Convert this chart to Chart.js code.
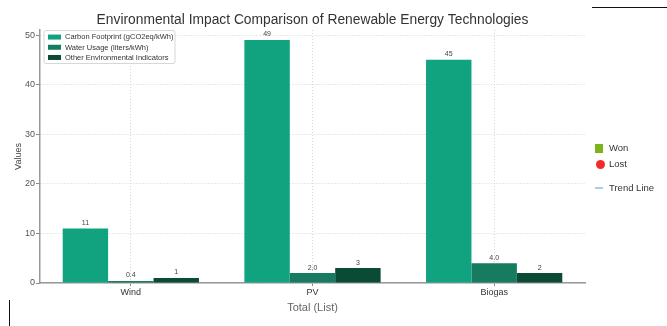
<!DOCTYPE html>
<html>
<head>
<meta charset="utf-8">
<script src="https://cdn.jsdelivr.net/npm/chart.js@4/dist/chart.umd.min.js"></script>
<style>
  html, body { margin: 0; padding: 0; background: #fff; }
  #wrap { position: relative; width: 667px; height: 326px; font-family: "Liberation Sans", Arial, sans-serif; }
  #chart { position: absolute; left: 0; top: 0; }
  .deco { position: absolute; background: #111; }
  .key { position: absolute; font-size: 9.5px; color: #333; line-height: 10px; }
  .sw { position: absolute; }
</style>
</head>
<body>
<div id="wrap">
  <canvas id="chart" width="667" height="326"></canvas>
  <div class="deco" style="left:592px; top:7px; width:75px; height:1.3px;"></div>
  <div class="deco" style="left:8.5px; top:300px; width:1.2px; height:26px;"></div>
  <div class="sw" style="left:595px; top:144px; width:8px; height:9px; background:#7cb51a;"></div>
  <div class="key" style="left:609px; top:143px;">Won</div>
  <div class="sw" style="left:595.5px; top:159.5px; width:9px; height:9px; border-radius:50%; background:#f42a2a;"></div>
  <div class="key" style="left:609px; top:159px;">Lost</div>
  <div class="sw" style="left:595px; top:187px; width:8px; height:1.5px; background:#a9cfe6;"></div>
  <div class="key" style="left:609px; top:183px;">Trend Line</div>
</div>
<script>
// Technologies compared on the x axis
const categories = ['Wind', 'PV', 'Biogas'];

// Series values per technology
const carbonFootprint = [11, 49, 45];   // gCO2eq/kWh
const waterUsage = [0.4, 2.0, 4.0];     // liters/kWh
const otherIndicators = [1, 3, 2];

const seriesNames = ['Carbon Footprint (gCO2eq/kWh)', 'Water Usage (liters/kWh)', 'Other Environmental Indicators'];
const seriesColors = ['#11a37f', '#177b5f', '#0b4a35'];
const labelDecimals = [0, 1, 0];

const yTicks = [0, 10, 20, 30, 40, 50];

const FONT = '"Liberation Sans", Arial, sans-serif';

// Legend box drawn inside the plot, below the bars
const innerLegend = {
  id: 'innerLegend',
  beforeDatasetsDraw(chart) {
    const ctx = chart.ctx;
    const ca = chart.chartArea;
    const x0 = ca.left + 4, y0 = ca.top + 0.5, w = 131, h = 33;
    ctx.save();
    ctx.setLineDash([]);
    ctx.fillStyle = 'rgba(255,255,255,0.85)';
    ctx.strokeStyle = '#d6d6d6';
    ctx.lineWidth = 1;
    ctx.beginPath();
    ctx.roundRect(x0, y0, w, h, 2);
    ctx.fill();
    ctx.stroke();
    ctx.font = '7.5px ' + FONT;
    ctx.textBaseline = 'middle';
    chart.data.datasets.forEach((ds, i) => {
      const cy = y0 + 6.5 + i * 10.2;
      ctx.fillStyle = ds.backgroundColor;
      ctx.fillRect(x0 + 4, cy - 2.5, 13, 5);
      ctx.fillStyle = '#333';
      ctx.fillText(ds.label, x0 + 21, cy + 0.3);
    });
    ctx.restore();
  }
};

// Value labels above each bar
const valueLabels = {
  id: 'valueLabels',
  afterDatasetsDraw(chart) {
    const ctx = chart.ctx;
    ctx.save();
    ctx.font = '7px ' + FONT;
    ctx.fillStyle = '#444';
    ctx.textAlign = 'center';
    ctx.textBaseline = 'bottom';
    chart.data.datasets.forEach((ds, i) => {
      chart.getDatasetMeta(i).data.forEach((bar, j) => {
        ctx.fillText(ds.data[j].toFixed(labelDecimals[i]), bar.x, bar.y - 2);
      });
    });
    ctx.restore();
  }
};

const seriesData = [carbonFootprint, waterUsage, otherIndicators];

new Chart(document.getElementById('chart'), {
  type: 'bar',
  data: {
    labels: categories,
    datasets: seriesData.map((vals, i) => ({
      label: seriesNames[i],
      data: vals,
      backgroundColor: seriesColors[i],
      borderWidth: 0,
      categoryPercentage: 0.75,
      barPercentage: 1.0
    }))
  },
  options: {
    responsive: false,
    animation: false,
    devicePixelRatio: 1,
    layout: { padding: { left: 0, right: 82, top: 0, bottom: 0 } },
    plugins: {
      legend: { display: false },
      tooltip: { enabled: false },
      title: {
        display: true,
        text: 'Environmental Impact Comparison of Renewable Energy Technologies',
        fullSize: false,
        color: '#333',
        font: { family: FONT, size: 13.8, weight: 'normal' },
        padding: { top: 12, bottom: 1.5 }
      }
    },
    scales: {
      x: {
        grid: {
          offset: false,
          color: '#d4d4d4',
          tickColor: '#888',
          tickLength: 3,
          tickBorderDash: []
        },
        border: { color: '#999', width: 1.5, dash: [1, 2] },
        ticks: { color: '#333', font: { family: FONT, size: 9 }, padding: 1 },
        title: {
          display: true,
          text: 'Total (List)',
          color: '#666',
          font: { family: FONT, size: 11 },
          padding: { top: 0, bottom: 11.4 }
        },
        afterFit(scale) { scale.height = 43; }
      },
      y: {
        min: 0,
        max: 51,
        afterBuildTicks(scale) { scale.ticks = yTicks.map(v => ({ value: v })); },
        grid: {
          color: '#d4d4d4',
          tickColor: '#888',
          tickLength: 4,
          tickBorderDash: []
        },
        border: { color: '#999', width: 1.5, dash: [1, 2] },
        ticks: { color: '#555', font: { family: FONT, size: 9 }, padding: 1 },
        title: {
          display: true,
          text: 'Values',
          color: '#444',
          font: { family: FONT, size: 9 },
          padding: { top: 13, bottom: 0 }
        },
        afterFit(scale) { scale.width = 40; }
      }
    }
  },
  plugins: [innerLegend, valueLabels]
});
</script>
</body>
</html>
